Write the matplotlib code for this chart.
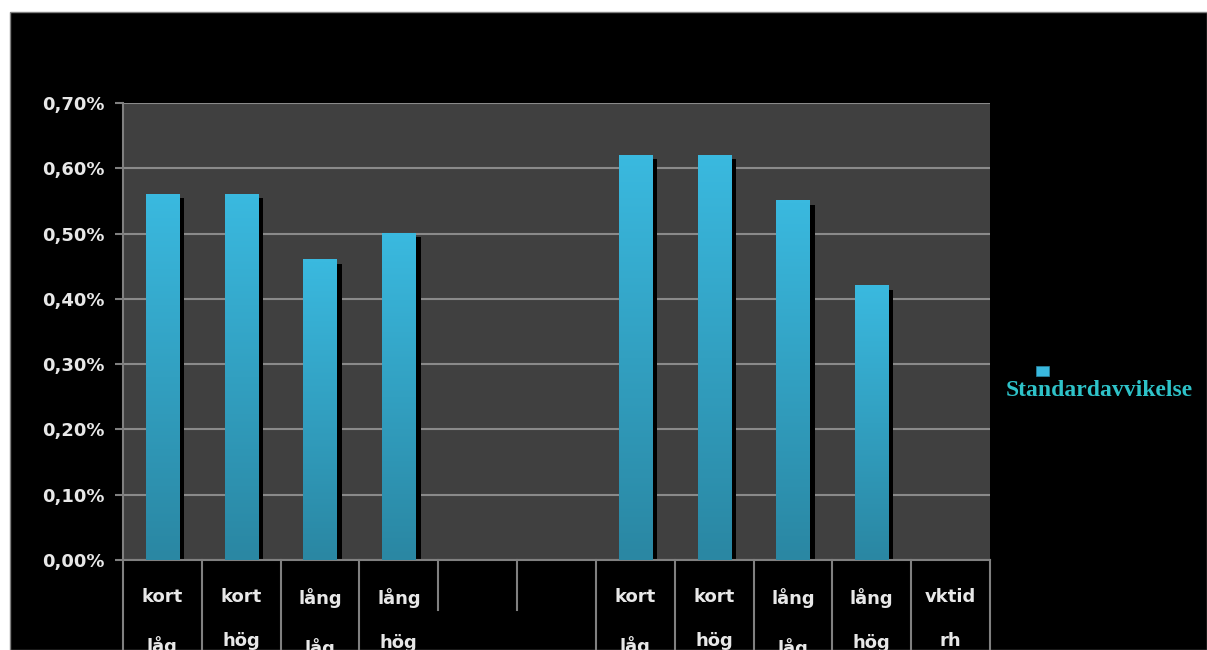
import numpy as np
import matplotlib
matplotlib.use("Agg")
import matplotlib.pyplot as plt
from matplotlib.patches import Rectangle
from matplotlib.ticker import FuncFormatter

## Data

categories = ["kort\nlåg", "kort\nhög", "lång\nlåg", "lång\nhög", "", "",
              "kort\nlåg", "kort\nhög", "lång\nlåg", "lång\nhög", "vktid\nrh"]
values = [0.0056, 0.0056, 0.0046, 0.0050, None, None,
          0.0062, 0.0062, 0.0055, 0.0042, None]
series_name = "Standardavvikelse"
# separators that stop short below the axis
short_seps = [4, 5]

## Figure

fig = plt.figure(figsize=(12.07, 6.5), dpi=100)
fig.patch.set_facecolor("white")
fig.patches.append(Rectangle((10 / 1207, 0), 1 - 10 / 1207, 1 - 12 / 650,
                             transform=fig.transFigure, facecolor="black",
                             edgecolor="#808080", lw=1, zorder=-10))

ax = fig.add_axes([123 / 1207, 1 - 560 / 650, (990 - 123) / 1207, (560 - 103) / 650])
ax.set_facecolor("#404040")

n = len(categories)

# grid
ax.set_yticks(np.arange(0, 0.0071, 0.001))
ax.yaxis.grid(True, color="#8a8a8a", lw=1.5)
ax.set_axisbelow(True)
ax.yaxis.set_major_formatter(FuncFormatter(lambda v, p: ("%.2f%%" % (v * 100)).replace(".", ",")))
ax.tick_params(axis="y", colors="#808080", labelcolor="#e8e8e8", labelsize=13,
               length=6, width=1.5, pad=7)
for t in ax.get_yticklabels():
    t.set_fontweight("bold")

# bars with shadow and gradient
grad = np.linspace(0, 1, 100).reshape(-1, 1)
cmap = matplotlib.colors.LinearSegmentedColormap.from_list("g", ["#2a87a3", "#3ab9df"])
bw = 0.42
sx, sy = 0.065, 0.00006
for i, v in enumerate(values):
    if v is None:
        continue
    ax.add_patch(Rectangle((i - bw / 2 + sx, 0), bw, v - sy, facecolor="black",
                           edgecolor="none", zorder=2))
    ax.imshow(grad, extent=(i - bw / 2, i + bw / 2, 0, v), origin="lower",
              cmap=cmap, aspect="auto", zorder=3, interpolation="bilinear")
ax.set_xlim(-0.5, n - 0.5)
ax.set_ylim(0, 0.007)

# x labels
ax.set_xticks(range(n))
ax.set_xticklabels(categories, color="#e8e8e8", fontsize=13, fontweight="bold",
                   linespacing=2.9)
ax.tick_params(axis="x", length=0, pad=20)

# category separators below axis
for k in range(n + 1):
    depth = -0.11 if k in short_seps else -0.25
    ax.plot([k - 0.5, k - 0.5], [0, depth], transform=ax.get_xaxis_transform(),
            color="#808080", lw=1.5, clip_on=False)

for s in ["top", "right"]:
    ax.spines[s].set_visible(False)
for s in ["left", "bottom"]:
    ax.spines[s].set_color("#808080")
    ax.spines[s].set_linewidth(1.5)

# legend
fig.patches.append(Rectangle((1036 / 1207, 1 - 376 / 650), 13 / 1207, 10 / 650,
                             transform=fig.transFigure, facecolor="#39b8de",
                             edgecolor="#2a87a3", lw=0.5))
fig.text(1099 / 1207, 1 - 391 / 650, series_name, color="#2ec2c8",
         fontsize=17, fontweight="bold", family="Liberation Serif",
         ha="center", va="center")

fig.savefig("out.png", dpi=100, facecolor=fig.get_facecolor())
